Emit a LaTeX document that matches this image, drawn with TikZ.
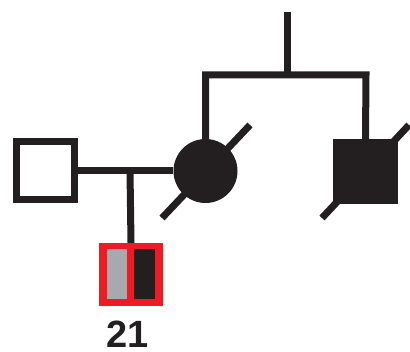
\documentclass[tikz,border=0pt]{standalone}
\usepackage{fontspec}
\setmainfont{Liberation Sans}
\definecolor{pblack}{HTML}{231F20}
\definecolor{pred}{HTML}{ED1C24}
\definecolor{pgray}{HTML}{A7A9AC}
\begin{document}
\begin{tikzpicture}[x=1pt,y=-1pt,
  ln/.style={draw=pblack,line width=7pt},
  male/.style={rectangle,draw=pblack,line width=7pt,fill=white,minimum size=58pt,inner sep=0pt},
  deadmale/.style={rectangle,fill=pblack,minimum size=65pt,inner sep=0pt},
  female/.style={circle,fill=pblack,minimum size=64pt,inner sep=0pt}]
\useasboundingbox (0,0) rectangle (410,352);
\node[male] (f) at (45.5,171) {};
\node[female] (m) at (205.5,171) {};
\node[deadmale] (g) at (365.5,171.5) {};
\node[rectangle,fill=pred,minimum width=64pt,minimum height=63pt,inner sep=0pt] (c) at (131,274.5) {};
\node[rectangle,fill=pgray,minimum width=20pt,minimum height=50pt,inner sep=0pt] (cg) at (117,274) {};
\node[rectangle,fill=pblack,minimum width=21pt,minimum height=50pt,inner sep=0pt] (cb) at (144.5,274) {};
\node[font=\bfseries\fontsize{38}{38}\selectfont,text=pblack,inner sep=0pt] (lab) at (128,334) {21};
\coordinate (d) at (130,171);
\coordinate (top) at (287,12);
\coordinate (bar) at (287,75);
\coordinate (ml) at (205.5,75);
\coordinate (gl) at (366,75);
\coordinate (m1) at (162,218);
\coordinate (m2) at (250,125);
\coordinate (g1) at (322,218);
\coordinate (g2) at (409,125);
\draw[ln] (f.east) -- (m.west);
\draw[ln] (d) -- (c.north);
\draw[ln] (top) -- (bar);
\draw[ln] (m.north) -- (ml) -- (gl) -- (g.north);
\draw[ln] (m1) -- (m2);
\draw[ln] (g1) -- (g2);
\end{tikzpicture}
\end{document}
